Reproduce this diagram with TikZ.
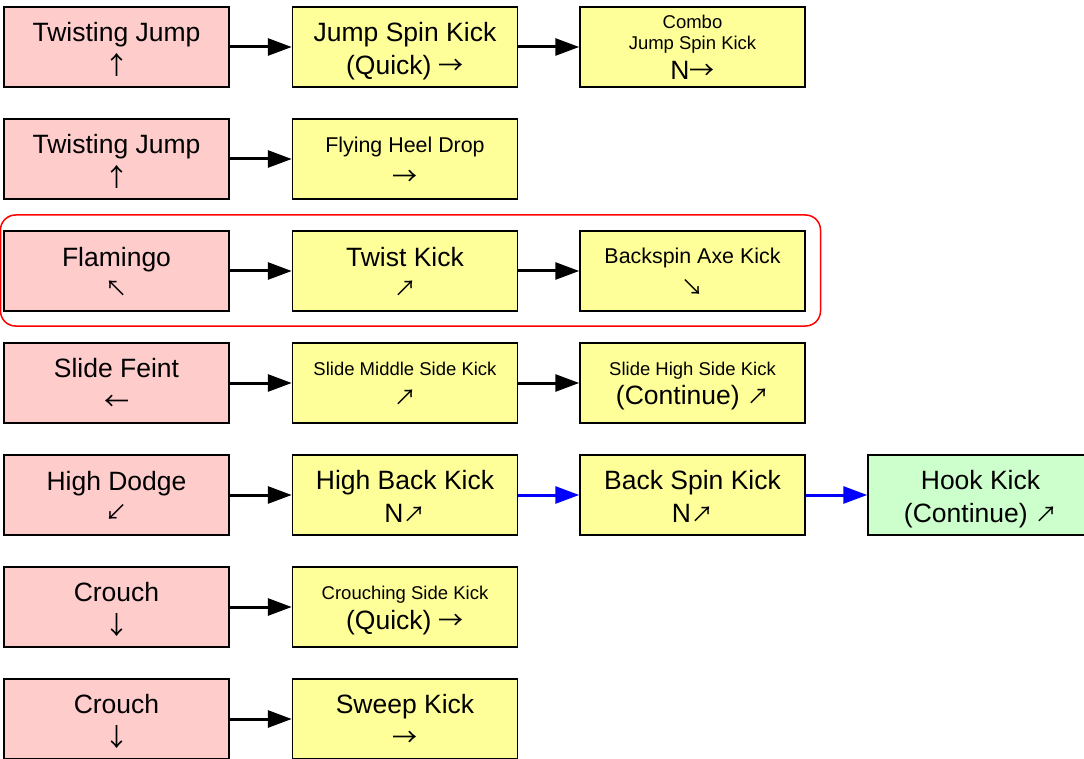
\documentclass[tikz,border=0pt]{standalone}
\usepackage{fontspec}
\setmainfont{Liberation Sans}
\newfontfamily\arrfont{Noto Sans CJK SC}
\usetikzlibrary{arrows.meta}
\definecolor{startpink}{HTML}{FFCCCC}
\definecolor{moveyellow}{HTML}{FFFF99}
\definecolor{endgreen}{HTML}{CCFFCC}
\newcommand\lgf{\fontsize{26.5}{33}\selectfont}
\newcommand\mdf{\fontsize{21.4}{27}\selectfont}
\newcommand\smf{\fontsize{18.5}{23}\selectfont}
% arrow glyphs from a font with thin, full-width arrows (smashed so struts fix line metrics)
\newcommand\arw[1]{\smash{\arrfont\fontsize{25}{33}\selectfont #1}}
\newcommand\diag[1]{\smash{\arrfont\fontsize{22}{33}\selectfont #1}}
% struts: top of first line and bottom of last line
\newcommand\tops[1]{\rule{0pt}{\dimexpr #1pt+3pt\relax}}
\newcommand\bots{\rule[-7pt]{0pt}{0pt}}
\tikzset{
  movebox/.style={draw=black, line width=1.5pt, minimum width=225pt, minimum height=80pt,
    inner sep=0pt, align=center, font=\lgf},
  startbox/.style={movebox, fill=startpink},
  kickbox/.style={movebox, fill=moveyellow},
  finishbox/.style={movebox, fill=endgreen},
  link/.style={line width=3pt, -{Triangle[length=24pt,width=17pt]}},
  bluelink/.style={link, draw=blue, -{Triangle[length=24pt,width=17pt,fill=blue]}}
}
\begin{document}
\begin{tikzpicture}[x=1pt,y=-1pt]
\useasboundingbox (0,0) rectangle (1084,759);
\fill[white] (0,0) rectangle (1084,759);
% highlighted chain
\draw[red, line width=1.5pt, rounded corners=15pt] (0.5,215) rectangle (820.5,326);
% row 1
\node[startbox] (a1) at (116.5,47) {\tops{26}Twisting Jump\\\arw{↑}\bots};
\node[kickbox]  (a2) at (405,47) {\tops{26}Jump Spin Kick\\(Quick) \arw{→}\bots};
\node[kickbox]  (a3) at (692.5,47) {\tops{18}{\smf Combo}\\[-12pt]{\smf Jump Spin Kick}\\[-3pt]N\arw{→}\bots};
\draw[link] (a1) -- (a2);
\draw[link] (a2) -- (a3);
% row 2
\node[startbox] (b1) at (116.5,159) {\tops{26}Twisting Jump\\\arw{↑}\bots};
\node[kickbox]  (b2) at (405,159) {\tops{24.5}{\mdf Flying Heel Drop}\\[0.5pt]\arw{→}\bots};
\draw[link] (b1) -- (b2);
% row 3
\node[startbox] (c1) at (116.5,271) {\tops{25.4}Flamingo\\[-2.6pt]\diag{↖}\bots};
\node[kickbox]  (c2) at (405,271) {\tops{25.4}Twist Kick\\[-2.6pt]\diag{↗}\bots};
\node[kickbox]  (c3) at (692.5,271) {\tops{20.5}{\mdf Backspin Axe Kick}\\[-1.5pt]\diag{↘}\bots};
\draw[link] (c1) -- (c2);
\draw[link] (c2) -- (c3);
% row 4
\node[startbox] (d1) at (116.5,383) {\tops{26}Slide Feint\\\arw{←}\bots};
\node[kickbox]  (d2) at (405,383) {\tops{18.5}{\smf Slide Middle Side Kick}\\[-3.5pt]\diag{↗}\bots};
\node[kickbox]  (d3) at (692.5,383) {\tops{18}{\smf Slide High Side Kick}\\[-4pt](Continue) \diag{↗}\bots};
\draw[link] (d1) -- (d2);
\draw[link] (d2) -- (d3);
% row 5
\node[startbox]  (e1) at (116.5,495) {\tops{25.4}High Dodge\\[-2.6pt]\diag{↙}\bots};
\node[kickbox]   (e2) at (405,495) {\tops{26}High Back Kick\\N\diag{↗}\bots};
\node[kickbox]   (e3) at (692.5,495) {\tops{26}Back Spin Kick\\N\diag{↗}\bots};
\node[finishbox] (e4) at (980.5,495) {\tops{26}Hook Kick\\(Continue) \diag{↗}\bots};
\draw[link] (e1) -- (e2);
\draw[bluelink] (e2) -- (e3);
\draw[bluelink] (e3) -- (e4);
% row 6
\node[startbox] (f1) at (116.5,607) {\tops{26}Crouch\\\arw{↓}\bots};
\node[kickbox]  (f2) at (405,607) {\tops{19}{\smf Crouching Side Kick}\\[-3pt](Quick) \arw{→}\bots};
\draw[link] (f1) -- (f2);
% row 7
\node[startbox] (g1) at (116.5,719) {\tops{26}Crouch\\\arw{↓}\bots};
\node[kickbox]  (g2) at (405,719) {\tops{26}Sweep Kick\\\arw{→}\bots};
\draw[link] (g1) -- (g2);
\end{tikzpicture}
\end{document}
